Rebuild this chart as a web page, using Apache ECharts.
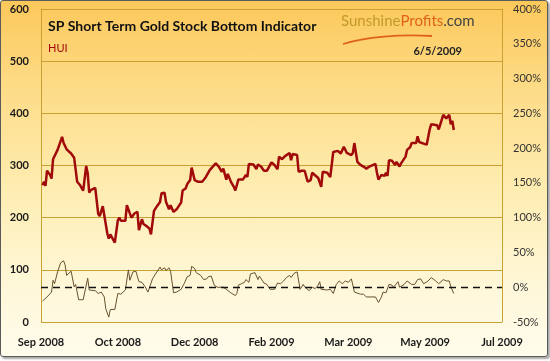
<!DOCTYPE html>
<html>
<head>
<meta charset="utf-8">
<script src="https://cdn.jsdelivr.net/npm/echarts@6/dist/echarts.min.js"></script>
<style>
  html, body { margin: 0; padding: 0; background: #ffffff; }
  #frame {
    position: absolute; left: 0; top: 0; width: 546px; height: 355px;
    border: 1px solid #5a5a5a; border-radius: 3px;
    box-shadow: 2px 2px 2px rgba(0,0,0,0.35);
    background: linear-gradient(to bottom, #fcc85a 0%, #fddc88 25%, #feeeb4 55%, #fff7d8 80%, #fffcec 100%);
  }
  #chart { position: absolute; left: 0; top: 0; width: 550px; height: 361px; }
</style>
</head>
<body>
<div id="frame"></div>
<div id="chart"></div>
<script>
// ---- data ----
const chartTitle = 'SP Short Term Gold Stock Bottom Indicator';
const seriesName = 'HUI';
const dateLabel = '6/5/2009';
const startDate = '2008-09-01';

const huiDates = [
  '2008-09-02','2008-09-03','2008-09-04','2008-09-05','2008-09-07','2008-09-08','2008-09-09','2008-09-10','2008-09-12','2008-09-15',
  '2008-09-16','2008-09-17','2008-09-18','2008-09-21','2008-09-23','2008-09-25','2008-09-27','2008-09-29','2008-09-30','2008-10-01',
  '2008-10-02','2008-10-03','2008-10-04','2008-10-07','2008-10-09','2008-10-10','2008-10-12','2008-10-15','2008-10-16','2008-10-17',
  '2008-10-20','2008-10-22','2008-10-23','2008-10-24','2008-10-27','2008-10-28','2008-10-29','2008-10-31','2008-11-02','2008-11-04',
  '2008-11-05','2008-11-07','2008-11-08','2008-11-10','2008-11-12','2008-11-13','2008-11-14','2008-11-15','2008-11-17','2008-11-19',
  '2008-11-20','2008-11-22','2008-11-23','2008-11-25','2008-11-26','2008-11-28','2008-11-30','2008-12-03','2008-12-04','2008-12-06',
  '2008-12-07','2008-12-09','2008-12-10','2008-12-12','2008-12-14','2008-12-17','2008-12-19','2008-12-22','2008-12-26','2008-12-28',
  '2008-12-30','2008-12-31','2009-01-02','2009-01-03','2009-01-05','2009-01-07','2009-01-08','2009-01-10','2009-01-13','2009-01-15',
  '2009-01-16','2009-01-17','2009-01-20','2009-01-22','2009-01-23','2009-01-25','2009-01-27','2009-01-29','2009-02-01','2009-02-03',
  '2009-02-05','2009-02-06','2009-02-08','2009-02-10','2009-02-13','2009-02-14','2009-02-15','2009-02-18','2009-02-19','2009-02-21',
  '2009-02-23','2009-02-25','2009-02-27','2009-02-28','2009-03-04','2009-03-06','2009-03-07','2009-03-10','2009-03-12','2009-03-14',
  '2009-03-17','2009-03-19','2009-03-21','2009-03-23','2009-03-26','2009-03-27','2009-03-28','2009-03-30','2009-04-01','2009-04-03',
  '2009-04-05','2009-04-07','2009-04-11','2009-04-12','2009-04-13','2009-04-15','2009-04-17','2009-04-18','2009-04-19','2009-04-20',
  '2009-04-22','2009-04-24','2009-04-25','2009-04-27','2009-04-28','2009-05-01','2009-05-02','2009-05-04','2009-05-05','2009-05-08',
  '2009-05-09','2009-05-10','2009-05-13','2009-05-15','2009-05-17','2009-05-18','2009-05-22','2009-05-23','2009-05-26','2009-05-28',
  '2009-05-29','2009-05-30','2009-05-31','2009-06-01','2009-06-02'
];
const huiValues = [
  262,269,261,290,282,275,312,315,330,355,
  343,345,331,323,315,269,262,252,252,299,
  285,248,253,257,207,203,222,170,160,168,
  152,195,200,194,194,224,216,200,208,211,
  176,197,188,184,179,168,167,213,222,230,
  247,248,230,216,224,211,216,229,252,256,
  264,272,296,272,269,269,276,291,304,298,
  288,294,273,284,269,259,252,273,273,282,
  278,303,302,293,302,298,290,290,306,301,
  293,317,312,318,324,310,322,320,288,290,
  290,269,272,286,276,259,288,286,278,326,
  328,323,336,324,320,324,343,307,301,298,
  294,298,303,286,273,282,280,286,280,310,
  309,301,307,298,304,317,330,335,343,343,
  356,345,342,340,369,379,377,369,397,390,
  387,397,379,386,368
];

const indDates = [
  '2008-09-02','2008-09-03','2008-09-05','2008-09-08','2008-09-09','2008-09-10','2008-09-12','2008-09-14','2008-09-15','2008-09-16',
  '2008-09-17','2008-09-18','2008-09-21','2008-09-23','2008-09-24','2008-09-26','2008-09-29','2008-10-02','2008-10-03','2008-10-07',
  '2008-10-09','2008-10-11','2008-10-13','2008-10-14','2008-10-16','2008-10-17','2008-10-20','2008-10-22','2008-10-23','2008-10-24',
  '2008-10-27','2008-10-29','2008-10-30','2008-11-01','2008-11-03','2008-11-05','2008-11-07','2008-11-09','2008-11-11','2008-11-14',
  '2008-11-16','2008-11-19','2008-11-20','2008-11-22','2008-11-23','2008-11-25','2008-11-26','2008-11-28','2008-11-30','2008-12-03',
  '2008-12-05','2008-12-07','2008-12-09','2008-12-10','2008-12-12','2008-12-13','2008-12-16','2008-12-18','2008-12-20','2008-12-21',
  '2008-12-23','2008-12-25','2008-12-27','2008-12-31','2009-01-02','2009-01-05','2009-01-08','2009-01-09','2009-01-10','2009-01-12',
  '2009-01-14','2009-01-15','2009-01-17','2009-01-18','2009-01-21','2009-01-23','2009-01-24','2009-01-27','2009-01-29','2009-01-30',
  '2009-01-31','2009-02-03','2009-02-05','2009-02-07','2009-02-09','2009-02-11','2009-02-13','2009-02-14','2009-02-16','2009-02-18',
  '2009-02-20','2009-02-22','2009-02-23','2009-02-26','2009-02-28','2009-03-02','2009-03-04','2009-03-05','2009-03-06','2009-03-07',
  '2009-03-10','2009-03-12','2009-03-14','2009-03-16','2009-03-18','2009-03-20','2009-03-22','2009-03-24','2009-03-26','2009-03-27',
  '2009-03-28','2009-04-01','2009-04-03','2009-04-05','2009-04-08','2009-04-11','2009-04-13','2009-04-15','2009-04-16','2009-04-18',
  '2009-04-20','2009-04-22','2009-04-23','2009-04-26','2009-04-27','2009-04-30','2009-05-02','2009-05-05','2009-05-07','2009-05-09',
  '2009-05-11','2009-05-13','2009-05-16','2009-05-18','2009-05-21','2009-05-23','2009-05-26','2009-05-28','2009-05-30','2009-05-31',
  '2009-06-02'
];
const indValues = [
  -20,-22,-14,-7,10,5,22,35,33,38,
  32,17,23,0.5,4,-18,-18,13,-4,-5,
  -9,-7,-14,-31,-43,-32,-32,-9,-7,-10,
  -4,25,10,22,23,8,7,1,-7,12,
  19,29,25,28,24,28,23,-8,-7,-3,
  5,15,17,30,27,21,17,11,12,15,
  16,3,0,0,-3,-8,-12,-9,3,5,
  7,11,7,19,21,11,16,6,4,5,
  -3,-3,6,5,9,14,17,14,20,22,
  -3,4,0.5,-5,0,-2,3,8,-3,-2,
  -4,-3,-9,4,9,5,9,7,12,3,
  -7,-10,-10,-14,-14,-14,-22,-14,-7,-8,
  4,3,0,8,0,4,9,4,4,11,
  12,5,9,14,9,5,11,9,9,1,
  -9
];

const leftTicks = { min: 0, max: 600, step: 100 };
const rightTicks = { min: -50, max: 400, step: 50 };
const xDays = { min: 0, max: 306, step: 51 };
const monthNames = ['Jan','Feb','Mar','Apr','May','Jun','Jul','Aug','Sep','Oct','Nov','Dec'];

// ---- build ----
const t0 = Date.parse(startDate);
const toDay = d => (Date.parse(d) - t0) / 86400000;
const huiData = huiDates.map((d, i) => [toDay(d), huiValues[i]]);
const indData = indDates.map((d, i) => [toDay(d), indValues[i]]);

const gold = '#c9a131';
const FONT = 'Lato, "Open Sans", sans-serif';

const chart = echarts.init(document.getElementById('chart'), null, { renderer: 'canvas' });
chart.setOption({
  backgroundColor: 'transparent',
  animation: false,
  grid: { left: 41, right: 48, top: 9, bottom: 39, containLabel: false },
  xAxis: {
    type: 'value', min: xDays.min, max: xDays.max, interval: xDays.step,
    axisLine: { show: false }, axisTick: { show: false }, splitLine: { show: false },
    axisLabel: {
      margin: 15, color: '#1a1a1a', fontFamily: FONT, fontSize: 11, fontWeight: 'bold',
      formatter: v => { const dt = new Date(t0 + v * 86400000); return monthNames[dt.getUTCMonth()] + ' ' + dt.getUTCFullYear(); }
    }
  },
  yAxis: [
    {
      type: 'value', min: leftTicks.min, max: leftTicks.max, interval: leftTicks.step, position: 'left',
      axisLine: { show: true, lineStyle: { color: gold, width: 1 } }, axisTick: { show: false },
      splitLine: { show: true, lineStyle: { color: gold, width: 1 } },
      axisLabel: { margin: 12, color: '#1a1a1a', fontFamily: FONT, fontSize: 11, fontWeight: 'bold' }
    },
    {
      type: 'value', min: rightTicks.min, max: rightTicks.max, interval: rightTicks.step, position: 'right',
      axisLine: { show: true, lineStyle: { color: gold, width: 1 } }, axisTick: { show: false },
      splitLine: { show: false },
      axisLabel: { margin: 11, color: '#333', fontFamily: FONT, fontSize: 11, formatter: '{value}%' }
    }
  ],
  series: [
    {
      name: seriesName, type: 'line', yAxisIndex: 0, data: huiData, showSymbol: false, symbol: 'none',
      lineStyle: { color: '#a00a0a', width: 2.5 }, z: 3
    },
    {
      name: 'Indicator', type: 'line', yAxisIndex: 1, data: indData, showSymbol: false, symbol: 'none',
      lineStyle: { color: '#65522f', width: 1 }, z: 2,
      markLine: {
        silent: true, symbol: ['none', 'none'], label: { show: false },
        lineStyle: { color: '#111', type: [7, 5], width: 1.3 },
        data: [{ yAxis: 0 }]
      }
    }
  ],
  graphic: [
    { type: 'text', left: 48, top: 19, style: { text: chartTitle, font: 'bold 14px ' + FONT, fill: '#111' } },
    { type: 'text', left: 48, top: 43, style: { text: seriesName, font: '11px ' + FONT, fill: '#a00a0a' } },
    { type: 'text', right: 88, top: 46, style: { text: dateLabel, font: 'bold 11px ' + FONT, fill: '#222' } },
    {
      type: 'text', left: 341, top: 14,
      style: {
        text: '{a|Sunshine}{b|Profits}{c|.com}',
        rich: {
          a: { font: '15px ' + FONT, fill: '#c39a28' },
          b: { font: '15px ' + FONT, fill: '#e0621a' },
          c: { font: '15px ' + FONT, fill: '#444' }
        }
      }
    },
    {
      type: 'bezierCurve', silent: true,
      shape: { x1: 343, y1: 44, x2: 432, y2: 36, cpx1: 365, cpy1: 37, cpx2: 400, cpy2: 34 },
      style: { stroke: '#e0621a', lineWidth: 1.8, fill: null }
    }
  ]
});
</script>
</body>
</html>
